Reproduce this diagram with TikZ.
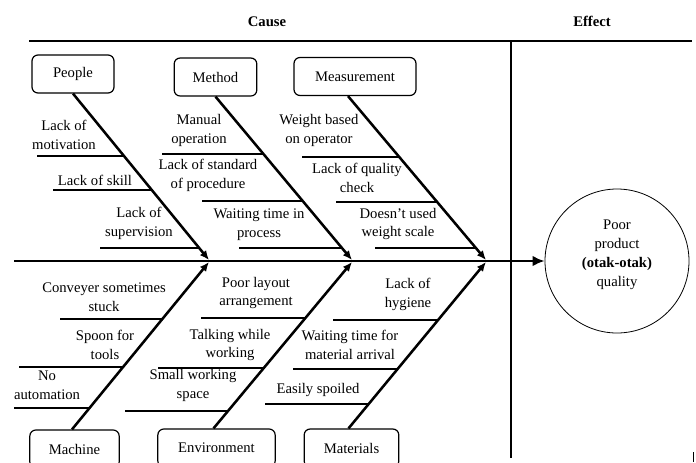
\documentclass[tikz,border=0pt]{standalone}
\usepackage{fontspec}
\setmainfont{LiberationSerif}[
  Extension=.ttf,
  UprightFont=*-Regular,
  BoldFont=*-Bold,
  ItalicFont=*-Italic,
  BoldItalicFont=*-BoldItalic]
\usetikzlibrary{arrows.meta,calc}

\begin{document}
\begin{tikzpicture}[
  x=0.75pt, y=-0.75pt,
  every node/.style={font=\fontsize{11}{14.2}\selectfont, inner sep=0pt},
  catbox/.style={rectangle, draw, line width=0.9pt, rounded corners=4.5pt, minimum height=28.5pt, align=center},
  cause/.style={align=center},
  head/.style={font=\fontsize{11}{14.2}\selectfont\bfseries},
  bone/.style={-{Latex[length=7pt,width=6pt]}, line width=1.9pt},
  spine/.style={-{Latex[length=9pt,width=8pt]}, line width=2.2pt},
  sub/.style={line width=1.5pt},
  frame/.style={line width=1.8pt}
]
\useasboundingbox (0,0) rectangle (696,462);

% Headings and frame
\node[head] (cause) at (267,22) {Cause};
\node[head] (effecthead) at (592,21) {Effect};
\draw[frame] (29,41) -- (692,41);
\draw[frame] (511,41) -- (511,458);
\draw[line width=0.6pt] (693,452) -- (693,462);

% Effect
\node[circle, draw, line width=0.6pt, minimum size=108pt, align=center, text depth=12pt] (effect) at (617,261)
  {Poor\\product\\\textbf{(otak-otak)}\\quality};

% Spine
\coordinate (tail) at (14,261);
\draw[spine] (tail) -- (effect.west);

% Category boxes
\node[catbox, minimum width=61.5pt] (people) at (73,74) {People};
\node[catbox, minimum width=62pt] (method) at (215.5,77) {Method};
\node[catbox, minimum width=91.5pt] (measure) at (355,76.5) {Measurement};
\node[catbox, minimum width=67pt] (machine) at (74.5,449) {Machine};
\node[catbox, minimum width=88pt] (environ) at (216.5,448) {Environment};
\node[catbox, minimum width=71pt] (material) at (351.5,448) {Materials};

% Bone tips on the spine
\coordinate (tpu) at (209,260);
\coordinate (tpl) at (209,262);
\coordinate (tmu) at (352,260);
\coordinate (tml) at (352,262);
\coordinate (tsu) at (486,260);
\coordinate (tsl) at (486,262);

% Bones
\draw[bone] (people.south) -- (tpu);
\draw[bone] (method.south) -- (tmu);
\draw[bone] ($(measure.south)+(-7,0)$) -- (tsu);
\draw[bone] ($(machine.north)+(-2.5,0)$) -- (tpl);
\draw[bone] ($(environ.north)+(-3,0)$) -- (tml);
\draw[bone] ($(material.north)+(-3,0)$) -- (tsl);

% People
\node[cause] (motiv) at (64,135) {Lack of\\motivation};
\node[cause] (skill) at (95,180) {Lack of skill};
\node[cause] (superv) at (139,223) {Lack of\\supervision};
\draw[sub] (37,156) -- (125,156);
\draw[sub] (53,190) -- (153,190);
\draw[sub] (100,248) -- (200,248);

% Method
\node[cause] (manual) at (199,130) {Manual\\operation};
\node[cause] (standard) at (208,175) {Lack of standard\\of procedure};
\node[cause] (waitproc) at (259,225) {Waiting time in\\process};
\draw[sub] (162,154) -- (264,154);
\draw[sub] (202,201) -- (303,201);
\draw[sub] (239,248) -- (342,248);

% Measurement
\node[cause] (weight) at (319,130) {Weight based\\on operator};
\node[cause] (quality) at (357,178) {Lack of quality\\check};
\node[cause] (scale) at (398,224) {Doesn't used\\weight scale};
\draw[sub] (302,157) -- (400,157);
\draw[sub] (336,202) -- (438,202);
\draw[sub] (375,248) -- (476,248);

% Machine
\node[cause] (conveyer) at (104,297) {Conveyer sometimes\\stuck};
\node[cause] (spoon) at (105,345) {Spoon for\\tools};
\node[cause] (noauto) at (47,385) {No\\automation};
\draw[sub] (60,319) -- (163,319);
\draw[sub] (19,367) -- (124,367);
\draw[sub] (14,408) -- (90,408);

% Environment
\node[cause] (layout) at (256,293) {Poor layout\\arrangement};
\node[cause] (talking) at (230,345) {Talking while\\working};
\node[cause] (space) at (193,385) {Small working\\space};
\draw[sub] (201,318) -- (306,318);
\draw[sub] (158,368) -- (264,368);
\draw[sub] (125,411) -- (229,411);

% Materials
\node[cause] (hygiene) at (408,294) {Lack of\\hygiene};
\node[cause] (waitmat) at (350,345) {Waiting time for\\material arrival};
\node[cause] (spoiled) at (318,390) {Easily spoiled};
\draw[sub] (333,320) -- (438,320);
\draw[sub] (293,369) -- (398,369);
\draw[sub] (265,404) -- (369,404);

\end{tikzpicture}
\end{document}
